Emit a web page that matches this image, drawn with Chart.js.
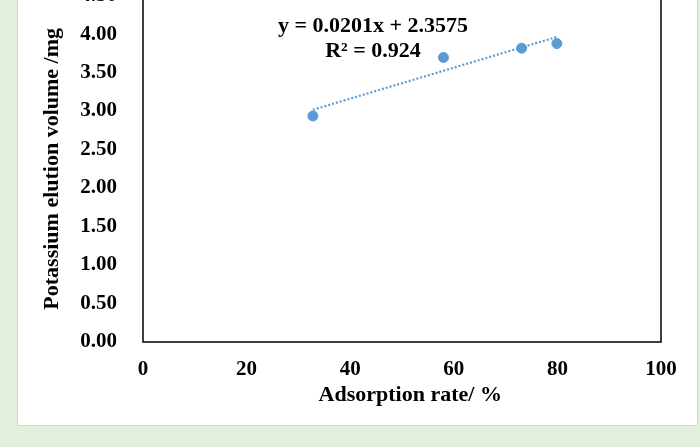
<!DOCTYPE html>
<html>
<head>
<meta charset="utf-8">
<script src="https://cdn.jsdelivr.net/npm/chart.js@4/dist/chart.umd.min.js"></script>
<style>
    html, body { margin: 0; padding: 0; }
    body { width: 700px; height: 447px; background: #e2efda; overflow: hidden; position: relative; }
    #panel { position: absolute; left: 17px; top: -10px; width: 679px; height: 434px; background: #fff; border: 1px solid #d6d6d6; overflow: hidden; }
    #wrap { position: absolute; left: -1px; top: -34px; width: 680px; height: 468px; }
</style>
</head>
<body>
<div id="panel"><div id="wrap"><canvas id="chart" width="680" height="468"></canvas></div></div>
<script>
// Adsorption rate (%) vs potassium elution (mg)
const adsorptionRate = [32.8, 58.0, 73.1, 79.9];
const elutionVolume = [2.937, 3.696, 3.817, 3.877];

// linear fit as printed on the chart
const slope = 0.0201;
const intercept = 2.3575;
const rSquared = 0.924;

const xTicks = [0, 20, 40, 60, 80, 100];
const yTicks = [0, 0.5, 1, 1.5, 2, 2.5, 3, 3.5, 4, 4.5];

const BLUE = '#5b9bd5';
const FONT = '"Liberation Serif", "Times New Roman", serif';

const points = adsorptionRate.map((x, i) => ({ x: x, y: elutionVolume[i] }));
const xFirst = adsorptionRate[0];
const xLast = adsorptionRate[adsorptionRate.length - 1];
const trend = [xFirst, xLast].map(x => ({ x: x, y: slope * x + intercept }));

const frameAndEquation = {
    id: 'frameAndEquation',
    afterDatasetsDraw(chart) {
        const { ctx, chartArea, scales } = chart;
        ctx.save();
        ctx.strokeStyle = '#000';
        ctx.lineWidth = 1.5;
        ctx.strokeRect(chartArea.left, chartArea.top, chartArea.right - chartArea.left, chartArea.bottom - chartArea.top);

        ctx.fillStyle = '#000';
        ctx.font = 'bold 22px ' + FONT;
        ctx.textAlign = 'center';
        ctx.textBaseline = 'middle';
        const cx = scales.x.getPixelForValue(44.4);
        ctx.fillText('y = ' + slope.toFixed(4) + 'x + ' + intercept.toFixed(4), cx, scales.y.getPixelForValue(4.106));
        ctx.fillText('R\u00b2 = ' + rSquared.toFixed(3), cx, scales.y.getPixelForValue(3.77));
        ctx.restore();
    }
};

new Chart(document.getElementById('chart'), {
    type: 'scatter',
    data: {
        datasets: [
            {
                data: points,
                backgroundColor: BLUE,
                borderColor: BLUE,
                pointRadius: 5,
                pointHoverRadius: 5,
                order: 1
            },
            {
                type: 'line',
                data: trend,
                borderColor: BLUE,
                borderWidth: 2.2,
                borderDash: [2, 2],
                pointRadius: 0,
                fill: false,
                order: 2
            }
        ]
    },
    options: {
        responsive: false,
        animation: false,
        devicePixelRatio: 1,
        layout: { padding: { top: 30, right: 36, left: 0, bottom: 0 } },
        plugins: { legend: { display: false }, tooltip: { enabled: false } },
        scales: {
            x: {
                type: 'linear',
                min: 0,
                max: 100,
                afterBuildTicks: s => { s.ticks = xTicks.map(v => ({ value: v })); },
                afterFit: s => { s.height = 83; },
                grid: { display: false, drawTicks: false },
                border: { display: false },
                ticks: { color: '#000', padding: 15, font: { family: FONT, size: 21, weight: 'bold' } },
                title: {
                    display: true,
                    // nbsp's push the title a little right of the axis centre
                    text: '\u00a0\u00a0\u00a0Adsorption rate/ %',
                    color: '#000',
                    padding: { top: 0, bottom: 16 },
                    font: { family: FONT, size: 22, weight: 'bold' }
                }
            },
            y: {
                min: 0,
                max: 4.5,
                afterBuildTicks: s => { s.ticks = yTicks.map(v => ({ value: v })); },
                afterFit: s => { s.width = 126; },
                grid: { display: false, drawTicks: false },
                border: { display: false },
                ticks: {
                    color: '#000',
                    padding: 26,
                    font: { family: FONT, size: 21, weight: 'bold' },
                    callback: v => Number(v).toFixed(2)
                },
                title: {
                    display: true,
                    text: 'Potassium elution volume /mg',
                    color: '#000',
                    padding: { top: 22, bottom: 0 },
                    font: { family: FONT, size: 22, weight: 'bold' }
                }
            }
        }
    },
    plugins: [frameAndEquation]
});
</script>
</body>
</html>
